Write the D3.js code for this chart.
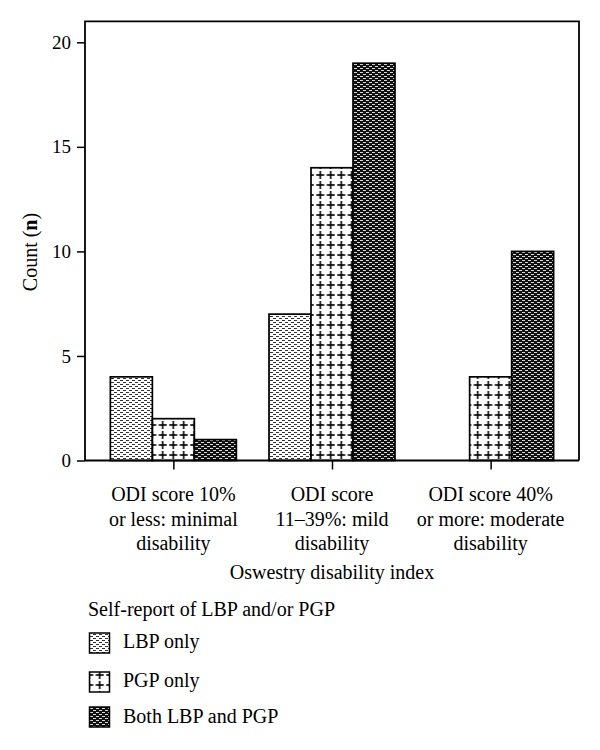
<!DOCTYPE html>
<html><head><meta charset="utf-8">
<script src="https://cdn.jsdelivr.net/npm/d3@7"></script>
<style>body{margin:0;background:#fff;} text{font-family:"Liberation Serif","DejaVu Serif",serif;fill:#000;}</style>
</head><body>
<svg id="chart" width="600" height="750"></svg>
<script>
const categories = [
  ["ODI score 10%", "or less: minimal", "disability"],
  ["ODI score", "11\u201339%: mild", "disability"],
  ["ODI score 40%", "or more: moderate", "disability"]
];
const categoryKeys = ["minimal", "mild", "moderate"];
const seriesNames = ["LBP only", "PGP only", "Both LBP and PGP"];
const lbpOnly = [4, 7, 0];
const pgpOnly = [2, 14, 4];
const bothLbpPgp = [1, 19, 10];
const yTicks = [0, 5, 10, 15, 20];

const seriesValues = [lbpOnly, pgpOnly, bothLbpPgp];
const patternIds = ["pLBP", "pPGP", "pBoth"];
const FS = "20px";

const svg = d3.select("#chart");
const defs = svg.append("defs");

// LBP pattern: light, staggered short dashes
const p1 = defs.append("pattern").attr("id","pLBP").attr("patternUnits","userSpaceOnUse")
  .attr("width",6).attr("height",4);
p1.append("rect").attr("width",6).attr("height",4).attr("fill","#fff");
p1.append("rect").attr("x",0).attr("y",0).attr("width",3).attr("height",1).attr("fill","#333");
p1.append("rect").attr("x",3).attr("y",2).attr("width",3).attr("height",1).attr("fill","#333");

// PGP pattern: plus signs
const p2 = defs.append("pattern").attr("id","pPGP").attr("patternUnits","userSpaceOnUse")
  .attr("width",10.5).attr("height",10);
p2.append("rect").attr("width",10.5).attr("height",10).attr("fill","#fff");
p2.append("rect").attr("x",1.25).attr("y",4.2).attr("width",8).attr("height",1.6).attr("fill","#000");
p2.append("rect").attr("x",4.45).attr("y",1).attr("width",1.6).attr("height",8).attr("fill","#000");

// Both pattern: dark with white dashes
const p3 = defs.append("pattern").attr("id","pBoth").attr("patternUnits","userSpaceOnUse")
  .attr("width",6).attr("height",4);
p3.append("rect").attr("width",6).attr("height",4).attr("fill","#111");
p3.append("rect").attr("x",0).attr("y",0).attr("width",3).attr("height",1).attr("fill","#d8d8d8");
p3.append("rect").attr("x",3).attr("y",2).attr("width",3).attr("height",1).attr("fill","#d8d8d8");

const left = 85, right = 579, y0px = 460.5, y20px = 42.3;
const y = d3.scaleLinear().domain([0, 20]).range([y0px, y20px]);
const x = d3.scalePoint().domain(categoryKeys).range([left, right]).padding(0.557);
const xs = d3.scaleBand().domain(seriesNames).range([-63, 63]);

const g = svg.append("g");

// bars
seriesNames.forEach((s, si) => {
  g.selectAll(null).data(categoryKeys.map((k, ci) => ({k, v: seriesValues[si][ci]})).filter(d => d.v > 0))
    .enter().append("rect")
    .attr("x", d => x(d.k) + xs(s))
    .attr("y", d => y(d.v))
    .attr("width", xs.bandwidth())
    .attr("height", d => y(0) - y(d.v))
    .attr("fill", `url(#${patternIds[si]})`)
    .attr("stroke", "#000").attr("stroke-width", 1.7);
});

// frame
const topY = y(21);
g.append("path").attr("d", `M${left},${y0px}V${topY}H${right}V${y0px}`)
  .attr("fill","none").attr("stroke","#000").attr("stroke-width",1.8);

// y axis
const yAxis = d3.axisLeft(y).tickValues(yTicks).tickSize(8).tickPadding(6);
const ya = svg.append("g").attr("transform", `translate(${left},0)`).call(yAxis);
ya.select(".domain").remove();
ya.selectAll("line").attr("stroke","#000").attr("stroke-width",1.5);
ya.selectAll("text").style("font-family","'Liberation Serif',serif").style("font-size","19px").attr("fill","#000");

// x axis
const xAxis = d3.axisBottom(x).tickSize(9).tickFormat("");
const xa = svg.append("g").attr("transform", `translate(0,${y0px})`).call(xAxis);
xa.select(".domain").attr("d", `M${left},0H${right}`).attr("stroke","#000").attr("stroke-width",1.8);
xa.selectAll("line").attr("stroke","#000").attr("stroke-width",1.5);

// category labels
categoryKeys.forEach((k, ci) => {
  const t = svg.append("text").attr("text-anchor","middle").style("font-size",FS)
    .attr("x", x(k)).attr("y", 501);
  categories[ci].forEach((line, li) => {
    t.append("tspan").attr("x", x(k)).attr("y", 501 + li * 24.5).text(line);
  });
});

// axis titles
svg.append("text").attr("text-anchor","middle").style("font-size",FS)
  .attr("x", (left + right) / 2).attr("y", 579).text("Oswestry disability index");

const yt = svg.append("text").attr("text-anchor","middle").style("font-size",FS)
  .attr("transform", `translate(37,252) rotate(-90)`);
yt.append("tspan").text("Count (");
yt.append("tspan").style("font-weight","bold").text("n");
yt.append("tspan").text(")");

// legend
svg.append("text").style("font-size",FS).attr("x", 88).attr("y", 616).text("Self-report of LBP and/or PGP");
const legY = [633, 672, 707];
const legTextY = [648, 687, 723];
seriesNames.forEach((s, i) => {
  svg.append("rect").attr("x", 89.5).attr("y", legY[i]).attr("width", 20).attr("height", 20)
    .attr("fill", `url(#${patternIds[i]})`).attr("stroke","#000").attr("stroke-width",1.5);
  svg.append("text").style("font-size",FS).attr("x", 123).attr("y", legTextY[i]).text(s);
});
</script>
</body></html>
